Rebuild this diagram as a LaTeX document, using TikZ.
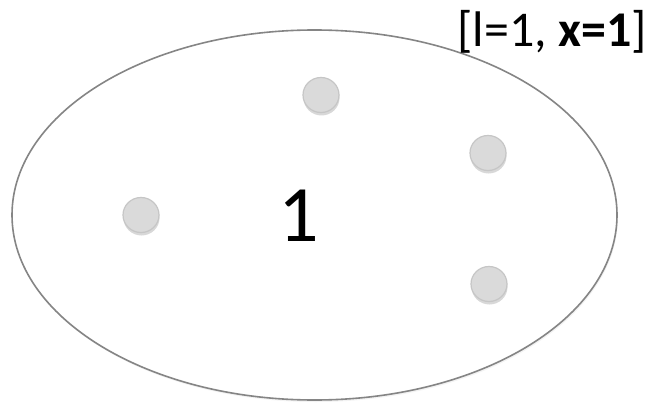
\documentclass[tikz,border=0pt]{standalone}
\usepackage{fontspec}
\setmainfont{Carlito}
\usetikzlibrary{shadows}
\definecolor{dotfill}{HTML}{DADADA}
\definecolor{dotline}{HTML}{C6C6C6}
\definecolor{ringline}{HTML}{858585}
\tikzset{
  dot/.style={ellipse, minimum width=36pt, minimum height=35pt, inner sep=0pt,
    fill=dotfill, draw=dotline, line width=1.2pt,
    drop shadow={shadow xshift=0.5pt, shadow yshift=-3pt, opacity=0.25, fill=black!60}},
  ring/.style={ellipse, minimum width=605pt, minimum height=370pt, inner sep=0pt,
    draw=ringline, line width=1.6pt,
    drop shadow={shadow xshift=1pt, shadow yshift=-2pt, opacity=0.12, fill=black!40}},
  bigtext/.style={font=\fontsize{80pt}{90pt}\selectfont, inner sep=0pt},
  labeltext/.style={font=\fontsize{50pt}{56pt}\selectfont, inner sep=0pt, anchor=base east}
}
\usetikzlibrary{shapes.geometric}
\begin{document}
\begin{tikzpicture}[x=1pt,y=1pt]
\useasboundingbox (0,0) rectangle (655,405);
\node[ring, fill=white] (set) at (314.5,190) {};
\node[dot] (d1) at (321,310) {};
\node[dot] (d2) at (488,252) {};
\node[dot] (d3) at (141,190) {};
\node[dot] (d4) at (489,121) {};
\node[bigtext, anchor=base] (num) at (299,164) {1};
\node[labeltext] (lab) at (647,358) {[l=1, \textbf{x=1}]};
\end{tikzpicture}
\end{document}
